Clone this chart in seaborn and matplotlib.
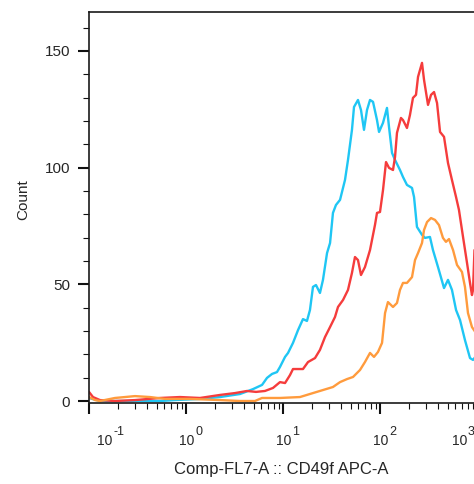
import numpy as np
import pandas as pd
import matplotlib
matplotlib.use("Agg")
import matplotlib.pyplot as plt
from matplotlib import ticker, transforms
import seaborn as sns

# ---- data (log10 of fluorescence, count) ----
blue_log = [-1.000, -0.887, -0.577, -0.268, -0.113, 0.144, 0.351, 0.557, 0.691, 0.784,
            0.835, 0.887, 0.938, 0.969, 1.021, 1.052, 1.103, 1.155, 1.206, 1.247,
            1.278, 1.309, 1.340, 1.381, 1.412, 1.454, 1.485, 1.515, 1.546, 1.588,
            1.639, 1.670, 1.711, 1.732, 1.773, 1.804, 1.835, 1.866, 1.897, 1.928,
            1.969, 1.990, 2.031, 2.072, 2.093, 2.124, 2.155, 2.206, 2.237, 2.278,
            2.330, 2.351, 2.381, 2.433, 2.464, 2.515, 2.546, 2.598, 2.660, 2.701,
            2.742, 2.784, 2.825, 2.876, 2.928, 2.959, 2.990]
blue_count = [1.3, 0, 0, 0, 0.4, 0.9, 1.7, 3.0, 5.1, 6.9,
              9.9, 11.6, 12.4, 14.6, 18.9, 20.6, 24.9, 30.4, 35.1, 34.3,
              39.0, 48.9, 49.7, 46.3, 51.9, 63.4, 67.7, 80.6, 84.0, 86.2,
              94.7, 103.3, 116.2, 126.0, 129.0, 124.7, 116.2, 124.7, 129.0, 128.2,
              120.4, 115.3, 119.2, 125.6, 117.4, 106.3, 103.3, 99.0, 96.0, 92.6,
              91.3, 87.4, 74.6, 71.2, 69.9, 70.3, 64.7, 57.4, 48.4, 51.9,
              47.6, 39.0, 34.7, 26.1, 18.4, 17.6, 19.3]

red_log = [-1.000, -0.959, -0.887, -0.732, -0.526, -0.268, -0.062, 0.144, 0.351, 0.505,
           0.629, 0.722, 0.814, 0.897, 0.969, 1.021, 1.072, 1.103, 1.206, 1.258,
           1.330, 1.381, 1.433, 1.485, 1.536, 1.567, 1.619, 1.670, 1.711, 1.742,
           1.773, 1.804, 1.845, 1.897, 1.948, 1.969, 2.000, 2.031, 2.062, 2.093,
           2.134, 2.155, 2.175, 2.216, 2.237, 2.278, 2.309, 2.340, 2.371, 2.392,
           2.433, 2.454, 2.495, 2.526, 2.557, 2.588, 2.619, 2.660, 2.701, 2.742,
           2.784, 2.814, 2.856, 2.897, 2.928, 2.948, 2.959, 2.974]
red_count = [3.9, 1.7, 0.4, 0, 0.4, 1.3, 1.7, 1.3, 2.6, 3.4,
             4.3, 3.9, 4.3, 5.6, 8.1, 7.7, 11.1, 13.7, 13.7, 16.7,
             18.4, 21.9, 27.4, 31.7, 36.0, 40.3, 43.3, 47.6, 54.9, 61.7,
             60.4, 54.0, 57.4, 64.7, 75.4, 80.6, 81.0, 90.4, 102.4, 99.9,
             99.0, 104.6, 114.9, 121.3, 120.4, 117.0, 122.6, 129.9, 131.2, 138.9,
             144.9, 137.6, 126.9, 131.2, 132.4, 127.7, 115.3, 113.2, 102.0, 94.7,
             87.4, 81.9, 70.3, 59.2, 50.6, 45.4, 47.6, 64.7]

orange_log = [-1.000, -0.938, -0.887, -0.732, -0.629, -0.526, -0.371, -0.216, 0.041, 0.351,
              0.557, 0.711, 0.784, 0.969, 1.175, 1.309, 1.412, 1.515, 1.588, 1.660,
              1.722, 1.794, 1.845, 1.897, 1.938, 1.979, 2.021, 2.052, 2.082, 2.134,
              2.175, 2.206, 2.237, 2.278, 2.330, 2.361, 2.392, 2.433, 2.454, 2.485,
              2.526, 2.567, 2.608, 2.649, 2.680, 2.711, 2.753, 2.794, 2.845, 2.876,
              2.907, 2.948, 2.990]
orange_count = [1.7, 0.4, 0, 1.3, 1.7, 2.1, 1.7, 0.9, 0.9, 0.4,
                0, 0, 1.3, 1.3, 1.7, 3.4, 4.7, 6.0, 8.1, 9.4,
                10.3, 13.3, 16.7, 20.6, 18.9, 21.0, 24.9, 37.7, 42.4, 40.3,
                42.0, 47.6, 50.6, 50.6, 53.1, 60.4, 63.4, 67.7, 73.3, 76.7,
                78.4, 77.6, 75.4, 69.9, 68.2, 69.4, 64.7, 58.3, 55.3, 48.9,
                37.7, 31.7, 29.1]

decades = [-1, 0, 1, 2, 3]
y_major = [0, 50, 100, 150]
x_label = "Comp-FL7-A :: CD49f APC-A"
y_label = "Count"

series = [
    ("blue", blue_log, blue_count, "#1FC6F4"),
    ("red", red_log, red_count, "#F53C3C"),
    ("orange", orange_log, orange_count, "#FF9B3D"),
]

sns.set_theme(style="ticks")
plt.rcParams["font.family"] = ["Liberation Sans", "DejaVu Sans"]
txt = "#262626"

fig = plt.figure(figsize=(4.74, 4.84), dpi=100)
ax = fig.add_axes([89 / 474, (484 - 402.5) / 484, 388 / 474, 390.5 / 484])

for name, lx, cy, col in series:
    df = pd.DataFrame({"x": np.power(10.0, np.array(lx)), "count": cy})
    sns.lineplot(data=df, x="x", y="count", sort=False, estimator=None,
                 color=col, lw=1.7, ax=ax, legend=False)

ax.set_xscale("log")
ax.set_xlim(10.0 ** decades[0], 10.0 ** decades[-1])
ax.set_ylim(-0.64, 166.7)

ax.xaxis.set_major_locator(ticker.FixedLocator([10.0 ** k for k in decades]))
ax.xaxis.set_minor_locator(ticker.LogLocator(base=10, subs=np.arange(2, 10), numticks=20))
ax.xaxis.set_major_formatter(ticker.NullFormatter())
ax.xaxis.set_minor_formatter(ticker.NullFormatter())
ax.yaxis.set_major_locator(ticker.FixedLocator(y_major))
ax.yaxis.set_minor_locator(ticker.MultipleLocator(10))

for sp in ax.spines.values():
    sp.set_color("#1a1a1a")
    sp.set_linewidth(1.2)

ax.tick_params(axis="both", which="major", direction="out", length=7.9, width=1.5,
               color="#111111", labelsize=11, labelcolor=txt, pad=5.6)
ax.tick_params(axis="both", which="minor", direction="out", length=4.3, width=0.8,
               color="#111111")

# x tick labels as "10" with a raised exponent
base_tr = transforms.blended_transform_factory(ax.transData, ax.transAxes)
offsets_px = [15.5, 1.0, 1.0, 0.5, -17.5]
for k, off in zip(decades, offsets_px):
    tr = base_tr + transforms.ScaledTranslation(off / 100, 0, fig.dpi_scale_trans)
    ax.text(10.0 ** k, -0.1088, "10", transform=tr, ha="center", va="baseline",
            fontsize=10, color=txt, clip_on=False)
    tr2 = base_tr + transforms.ScaledTranslation((off + 8.5) / 100, 0, fig.dpi_scale_trans)
    ax.text(10.0 ** k, -0.0832, str(k), transform=tr2, ha="left", va="baseline",
            fontsize=9, color=txt, clip_on=False)

ax.set_xlabel(x_label, fontsize=12, color=txt)
ax.set_ylabel(y_label, fontsize=11, color=txt)
ax.xaxis.set_label_coords(0.496, -0.152)
ax.yaxis.set_label_coords(-0.152, 0.519)

fig.savefig("out.png", dpi=100)
